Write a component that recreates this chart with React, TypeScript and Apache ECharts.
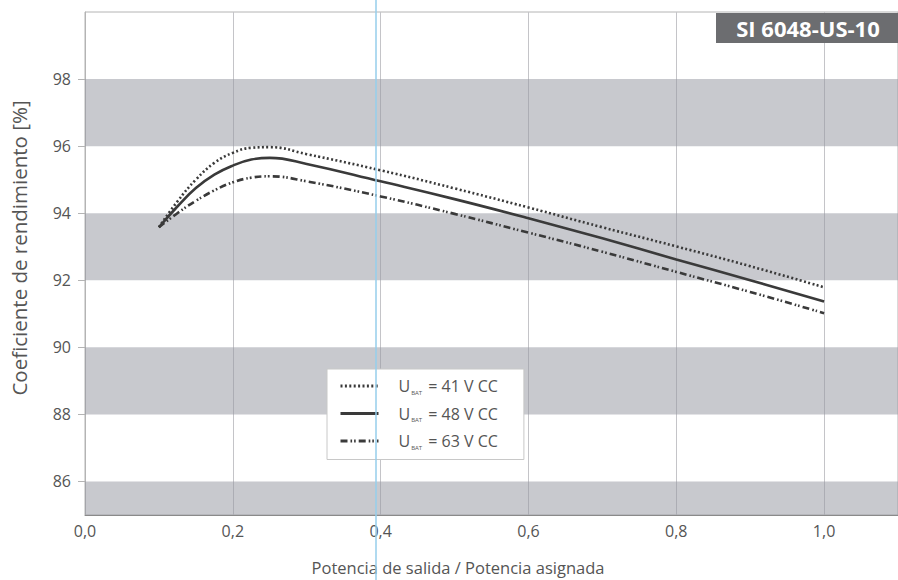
import React, { useEffect, useRef } from "react";
import * as echarts from "echarts";

const xValues = [0.1, 0.125, 0.15, 0.175, 0.2, 0.225, 0.25, 0.3, 0.4, 0.5, 0.6, 0.7, 0.8, 0.9, 1.0];
const eff41 = [93.58, 94.35, 95.0, 95.5, 95.8, 95.95, 95.97, 95.76, 95.28, 94.74, 94.17, 93.58, 93.01, 92.42, 91.79];
const eff48 = [93.58, 94.2, 94.75, 95.15, 95.42, 95.6, 95.65, 95.47, 94.95, 94.42, 93.85, 93.25, 92.62, 92.0, 91.37];
const eff63 = [93.58, 94.0, 94.37, 94.68, 94.92, 95.06, 95.1, 94.95, 94.5, 93.98, 93.42, 92.85, 92.25, 91.65, 91.02];
const seriesNames = ["U41", "U48", "U63"];
const legendVoltages = ["41", "48", "63"];
const xTickLabels = [0, 0.2, 0.4, 0.6, 0.8, 1.0];
const yTickLabels = [86, 88, 90, 92, 94, 96, 98];
const bands = [[85, 86], [88, 90], [92, 94], [96, 98]];
const titleText = "SI 6048-US-10";
const xName = "Potencia de salida / Potencia asignada";
const yName = "Coeficiente de rendimiento [%]";

const FONT = "'Open Sans', sans-serif";
const LINE = "#3a3a3a";

export default function App() {
  const ref = useRef<HTMLDivElement>(null);
  useEffect(() => {
    if (!ref.current) return;
    const chart = echarts.init(ref.current, null, { renderer: "svg" });
    const mk = (ys: number[]) => xValues.map((x, i) => [x, ys[i]]);
    const lineTypes: any[] = [[2, 2.4], "solid", [7, 3, 1.6, 2, 1.6, 3]];
    const datas = [eff41, eff48, eff63];
    const series: any[] = datas.map((d, i) => ({
      name: seriesNames[i],
      type: "line",
      data: mk(d),
      smooth: 0.45,
      symbol: "none",
      showSymbol: false,
      z: 3,
      lineStyle: { color: LINE, width: 2.6, type: lineTypes[i], cap: "butt" },
      itemStyle: { color: LINE },
    }));
    series.push({
      name: "bands",
      type: "line",
      data: [],
      silent: true,
      z: 1,
      markArea: {
        silent: true,
        itemStyle: { color: "rgba(150,152,162,0.52)" },
        data: bands.map((b) => [{ yAxis: b[0] }, { yAxis: b[1] }]),
      },
    });
    chart.setOption({
      animation: false,
      backgroundColor: "#ffffff",
      textStyle: { fontFamily: FONT },
      grid: {
        left: 85,
        top: 12,
        right: 0,
        bottom: 65,
        show: true,
        borderColor: "#b4b4b4",
        borderWidth: 1,
        backgroundColor: "transparent",
      },
      xAxis: {
        type: "value",
        min: 0,
        max: 1.1,
        interval: 0.2,
        axisLine: { show: true, lineStyle: { color: "#8a8a8a", width: 1 } },
        axisTick: { show: false },
        splitLine: { show: true, lineStyle: { color: "#c4c4c8", width: 1 } },
        axisLabel: {
          customValues: xTickLabels,
          formatter: (v: number) => v.toFixed(1).replace(".", ","),
          color: "#555",
          fontSize: 16,
          margin: 8,
          fontFamily: FONT,
        },
      },
      yAxis: {
        type: "value",
        min: 85,
        max: 100,
        interval: 1,
        axisLine: { show: true, lineStyle: { color: "#b4b4b4", width: 1 } },
        axisTick: { show: true, customValues: yTickLabels, length: 7, lineStyle: { color: "#b4b4b4" } },
        splitLine: { show: false },
        axisLabel: {
          customValues: yTickLabels,
          color: "#555",
          fontSize: 16,
          margin: 14,
          fontFamily: FONT,
        },
      },
      legend: {
        show: true,
        data: seriesNames,
        orient: "vertical",
        left: 327,
        top: 369,
        padding: [9, 26, 9, 12],
        itemGap: 10,
        itemWidth: 38,
        itemHeight: 19,
        backgroundColor: "#ffffff",
        borderColor: "#c8c8c8",
        borderWidth: 1,
        selectedMode: false,
        itemStyle: { opacity: 0 },
        lineStyle: { width: 3 },
        formatter: (name: string) => {
          const v = legendVoltages[seriesNames.indexOf(name)];
          return `{u|U}{s|BAT}{t| = ${v} V CC}`;
        },
        textStyle: {
          padding: [0, 0, 0, 15],
          rich: {
            u: { fontSize: 16, color: "#555", fontFamily: FONT, lineHeight: 19 },
            s: { fontSize: 6, color: "#555", fontFamily: FONT, verticalAlign: "bottom", lineHeight: 8, padding: [0, 2, 0, 1] },
            t: { fontSize: 16, color: "#555", fontFamily: FONT, lineHeight: 19 },
          },
        },
      },
      graphic: [
        {
          type: "rect",
          shape: { x: 716, y: 13, width: 182, height: 30 },
          style: { fill: "#6c6d70" },
          z: 10,
        },
        {
          type: "text",
          x: 808,
          y: 28,
          style: {
            text: titleText,
            fill: "#ffffff",
            font: `bold 22px ${FONT}`,
            textAlign: "center",
            textVerticalAlign: "middle",
          },
          z: 11,
        },
        {
          type: "text",
          x: 458,
          y: 567,
          style: {
            text: xName,
            fill: "#555",
            font: `16.5px ${FONT}`,
            textAlign: "center",
            textVerticalAlign: "middle",
          },
        },
        {
          type: "text",
          x: 19,
          y: 248,
          rotation: Math.PI / 2,
          style: {
            text: yName,
            fill: "#555",
            font: `20.5px ${FONT}`,
            textAlign: "center",
            textVerticalAlign: "middle",
          },
        },
        {
          type: "line",
          shape: { x1: 376, y1: 0, x2: 376, y2: 580 },
          style: { stroke: "rgba(150,205,235,0.75)", lineWidth: 2 },
          z: 20,
          silent: true,
        },
      ],
      series,
    });
    return () => chart.dispose();
  }, []);
  return (
    <div
      ref={ref}
      style={{ position: "fixed", left: 0, top: 0, width: 898, height: 580 }}
    />
  );
}
